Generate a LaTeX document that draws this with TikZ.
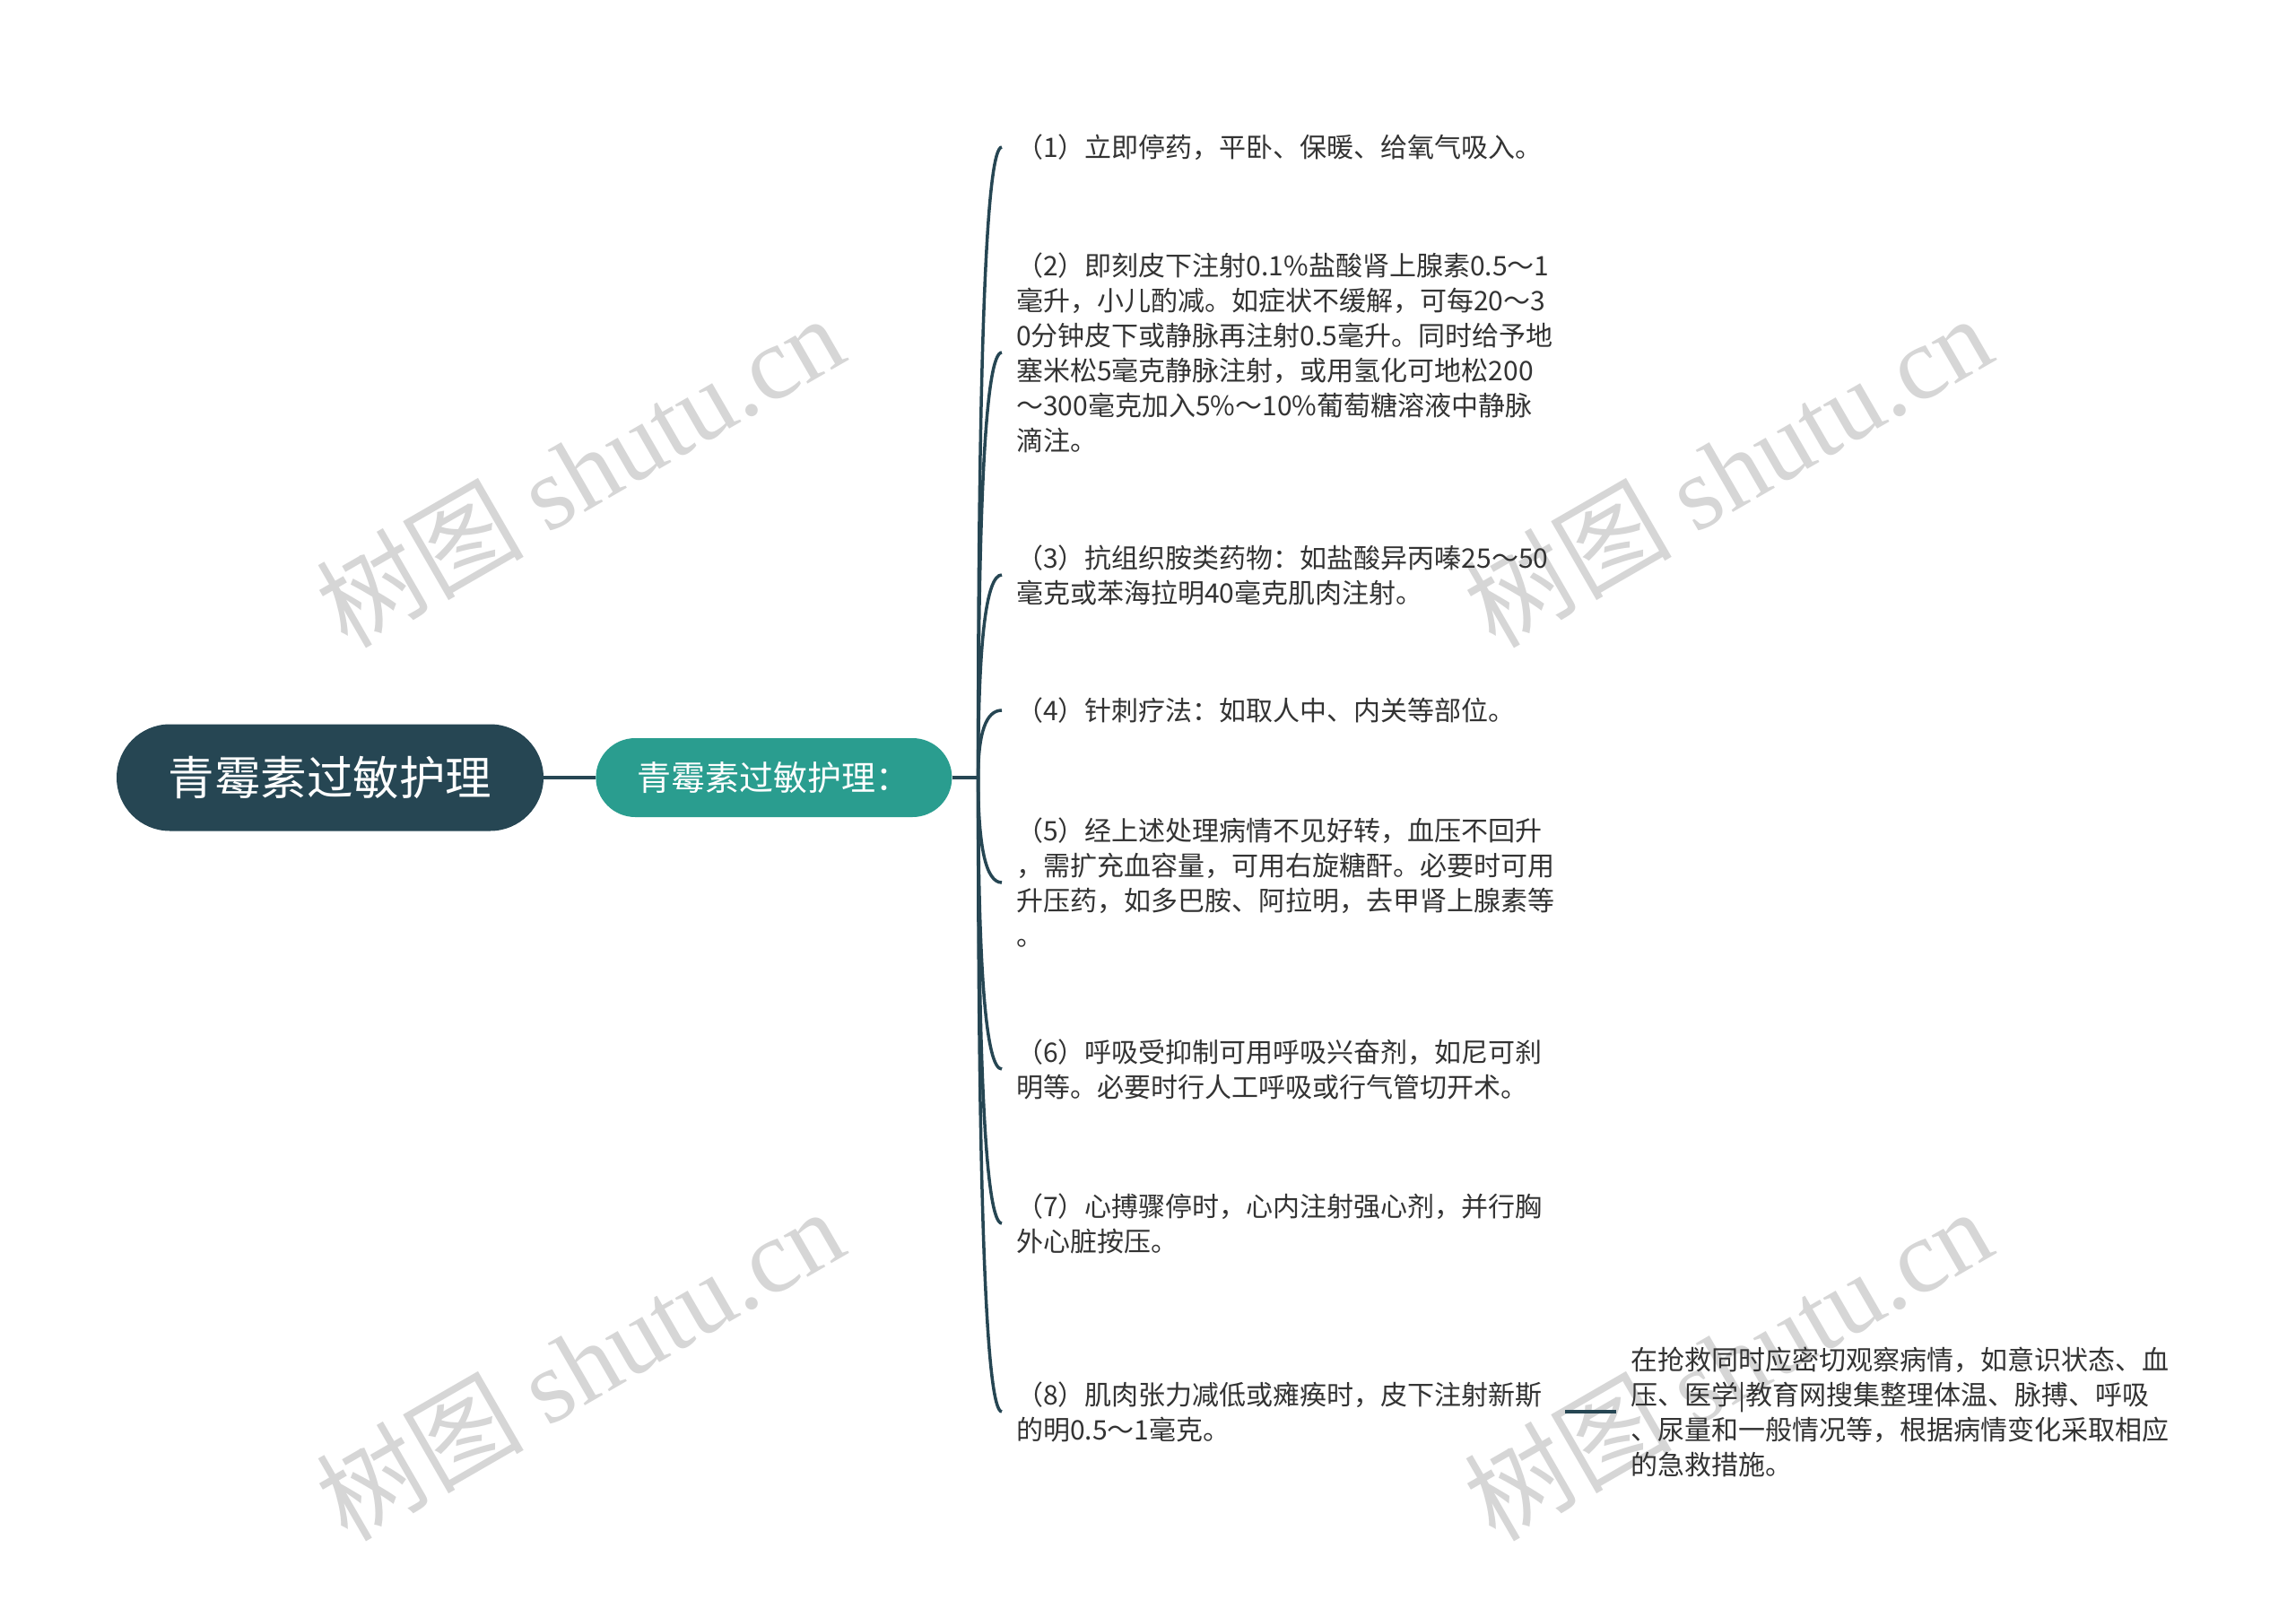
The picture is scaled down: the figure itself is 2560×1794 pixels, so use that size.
\documentclass[tikz,border=0pt]{standalone}
\usepackage{fontspec}
\setmainfont{Noto Sans CJK SC}
\newfontfamily\wmlatin{Liberation Serif}
\usepackage{tikz}
\usetikzlibrary{
        calc,
        positioning
    }
\definecolor{rootblue}{HTML}{264653}
\definecolor{subteal}{HTML}{2A9D8F}
\definecolor{leafink}{HTML}{333333}
\definecolor{wmgray}{HTML}{D6D6D6}
\tikzset{
    topic/.style={rectangle,fill=rootblue,text=white,rounded corners=59.5pt,
        minimum width=476pt,minimum height=119pt,inner sep=0pt,
        font=\fontsize{51.5pt}{60pt}\selectfont},
    subtopic/.style={rectangle,fill=subteal,text=white,rounded corners=44pt,
        minimum width=397pt,minimum height=88pt,inner sep=0pt,
        font=\fontsize{38pt}{44pt}\selectfont},
    leaf/.style={anchor=west,text=leafink,align=left,text width=596pt,
        inner xsep=16pt,inner ysep=6pt,
        font=\fontsize{30pt}{39pt}\selectfont},
    link/.style={draw=rootblue,line width=4pt},
    branch/.style={draw=rootblue,line width=3.5pt,
        to path={.. controls ($(\tikztostart)!2/3!(\tikztostart |- \tikztotarget)$)
            and ($(\tikztotarget)!2/3!(\tikztostart |- \tikztotarget)$) .. (\tikztotarget)}},
    wmark/.style={text=wmgray,rotate=30,font=\fontsize{116pt}{120pt}\selectfont}
}

\begin{document}
\begin{tikzpicture}[x=1pt,y=-1pt]
                \path[use as bounding box,fill=white] (0,0) rectangle (2560,1794);
                \node[wmark] (wm1) at (646,524)   {树图 {\wmlatin shutu.cn}};
                \node[wmark] (wm2) at (1926,524)  {树图 {\wmlatin shutu.cn}};
                \node[wmark] (wm3) at (646,1520)  {树图 {\wmlatin shutu.cn}};
                \node[wmark] (wm4) at (1926,1520) {树图 {\wmlatin shutu.cn}};
                \node[topic] (root) at (368,867) {青霉素过敏护理};
                \node[subtopic] (sub) [right=58pt of root] {青霉素过敏护理：};
                \coordinate[right=29pt of sub] (hub);
                \node[leaf] (n1) at (1117,164) {（1）立即停药，平卧、保暖、给氧气吸入。};
                \node[leaf] (n2) at (1117,393) {（2）即刻皮下注射0.1\%盐酸肾上腺素0.5～1\\
                    毫升，小儿酌减。如症状不缓解，可每20～3\\
                    0分钟皮下或静脉再注射0.5毫升。同时给予地\\
                    塞米松5毫克静脉注射，或用氢化可地松200\\
                    ～300毫克加入5\%～10\%葡萄糖溶液中静脉\\
                    滴注。};
                \node[leaf] (n3) at (1117,641) {（3）抗组织胺类药物：如盐酸异丙嗪25～50\\
                    毫克或苯海拉明40毫克肌肉注射。};
                \node[leaf] (n4) at (1117,792) {（4）针刺疗法：如取人中、内关等部位。};
                \node[leaf] (n5) at (1117,984) {（5）经上述处理病情不见好转，血压不回升\\
                    ，需扩充血容量，可用右旋糖酐。必要时可用\\
                    升压药，如多巴胺、阿拉明，去甲肾上腺素等\\
                    。};
                \node[leaf] (n6) at (1117,1192) {（6）呼吸受抑制可用呼吸兴奋剂，如尼可刹\\
                    明等。必要时行人工呼吸或行气管切开术。};
                \node[leaf] (n7) at (1117,1364) {（7）心搏骤停时，心内注射强心剂，并行胸\\
                    外心脏按压。};
                \node[leaf] (n8) at (1117,1574) {（8）肌肉张力减低或瘫痪时，皮下注射新斯\\
                    的明0.5～1毫克。};
                \node[leaf,text width=600pt] (n8a) [right=57pt of n8] {在抢救同时应密切观察病情，如意识状态、血\\
                    压、医学|教育网搜集整理体温、脉搏、呼吸\\
                    、尿量和一般情况等，根据病情变化采取相应\\
                    的急救措施。};
            \path[link]
                    (root) edge (sub)
                    (sub)  edge (hub)
                    (n8)   edge (n8a);
            \path
                    (hub) edge[branch] (n1.west)
                    (hub) edge[branch] (n2.west)
                    (hub) edge[branch] (n3.west)
                    (hub) edge[branch] (n4.west)
                    (hub) edge[branch] (n5.west)
                    (hub) edge[branch] (n6.west)
                    (hub) edge[branch] (n7.west)
                    (hub) edge[branch] (n8.west);
\end{tikzpicture}
\end{document}
